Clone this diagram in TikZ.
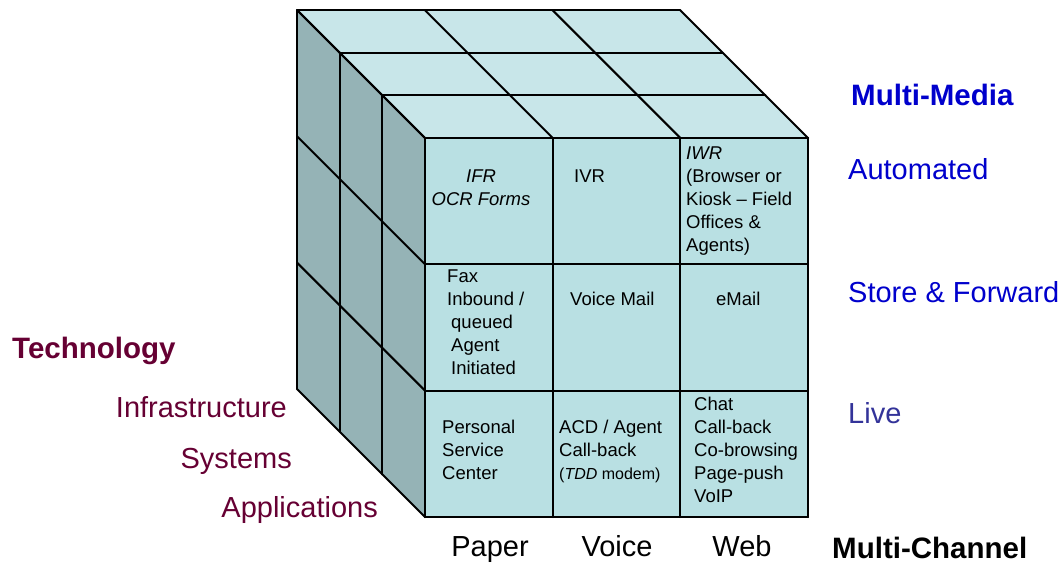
\documentclass[tikz,border=0pt]{standalone}
\usepackage{fontspec}
\setmainfont{Liberation Sans}
\usetikzlibrary{positioning}
\definecolor{topface}{HTML}{C8E6E9}
\definecolor{frontface}{HTML}{B9E0E3}
\definecolor{sideface}{HTML}{95B3B6}
\definecolor{mediablue}{HTML}{0000CC}
\definecolor{liveblue}{HTML}{333399}
\definecolor{techred}{HTML}{660033}

\begin{document}
\begin{tikzpicture}[
    x=1pt, y=-1pt,
    edge/.style={line width=2pt, line cap=round, line join=round},
    cell/.style={font=\fontsize{18.5}{23}\selectfont, inner sep=0pt, align=left, anchor=north west},
    media/.style={font=\fontsize{29}{32}\selectfont, text=mediablue, anchor=base west, inner sep=0pt},
    tech/.style={font=\fontsize{29}{32}\selectfont, text=techred, anchor=base east, inner sep=0pt},
    channel/.style={font=\fontsize{29}{32}\selectfont, anchor=base, inner sep=0pt},
    heading/.style={font=\bfseries\fontsize{29.5}{32}\selectfont, anchor=base west, inner sep=0pt}
  ]
  \useasboundingbox (0,0) rectangle (1064,563);

  % Faces of the cube
  \fill[topface] (297,10) -- (680,10) -- (808,138) -- (425,138) -- cycle;
  \fill[sideface] (297,10) -- (425,138) -- (425,517) -- (297,389) -- cycle;
  \fill[frontface] (425,138) rectangle (808,517);

  % Grid of the cube
  \foreach \k in {0,...,3} {
    \draw[edge] (297+42.67*\k,10+42.67*\k) -- ++(383,0);
    \draw[edge] (297+42.67*\k,10+42.67*\k) -- ++(0,379);
    \draw[edge] (297+127.67*\k,10) -- ++(128,128);
    \draw[edge] (297,10+126.33*\k) -- ++(128,128);
    \draw[edge] (425+127.67*\k,138) -- ++(0,379);
    \draw[edge] (425,138+126.33*\k) -- ++(383,0);
  }

  % Cells on the front face
  \node[cell, align=center, anchor=north] (ifr) at (481,170) {\textit{IFR}\\\textit{OCR Forms}};
  \node[cell] (ivr) at (574,170) {IVR};
  \node[cell] (iwr) at (686,147) {\textit{IWR}\\(Browser or\\Kiosk -- Field\\Offices \&\\Agents)};
  \node[cell] (fax) at (447,270) {Fax\\Inbound /\\\hspace*{4pt}queued\\\hspace*{4pt}Agent\\\hspace*{4pt}Initiated};
  \node[cell] (vmail) at (570,292) {Voice Mail};
  \node[cell] (email) at (716,292) {eMail};
  \node[cell] (psc) at (442,420) {Personal\\Service\\Center};
  \node[cell] (acd) at (559,420) {ACD / Agent\\Call-back\\{\fontsize{16}{18}\selectfont(\textit{TDD} modem)}};
  \node[cell] (chat) at (694,397) {Chat\\Call-back\\Co-browsing\\Page-push\\VoIP};

  % Media axis
  \node[heading, text=mediablue] (mm) at (851,105) {Multi-Media};
  \node[media] (auto) at (848,179) {Automated};
  \node[media] (store) at (848,302) {Store \& Forward};
  \node[media, text=liveblue] (live) at (848,423) {Live};

  % Technology axis
  \node[heading, text=techred] (tech) at (12,358) {Technology};
  \node[tech] (infra) at (287,417) {Infrastructure};
  \node[tech] (sys) at (292,468) {Systems};
  \node[tech] (apps) at (378,517) {Applications};

  % Channel axis
  \node[channel] (paper) at (490,556) {Paper};
  \node[channel] (voice) [right=127pt of paper.base, anchor=base] {Voice};
  \node[channel] (web) [right=125pt of voice.base, anchor=base] {Web};
  \node[heading] (mc) at (832,558) {Multi-Channel};
\end{tikzpicture}
\end{document}
